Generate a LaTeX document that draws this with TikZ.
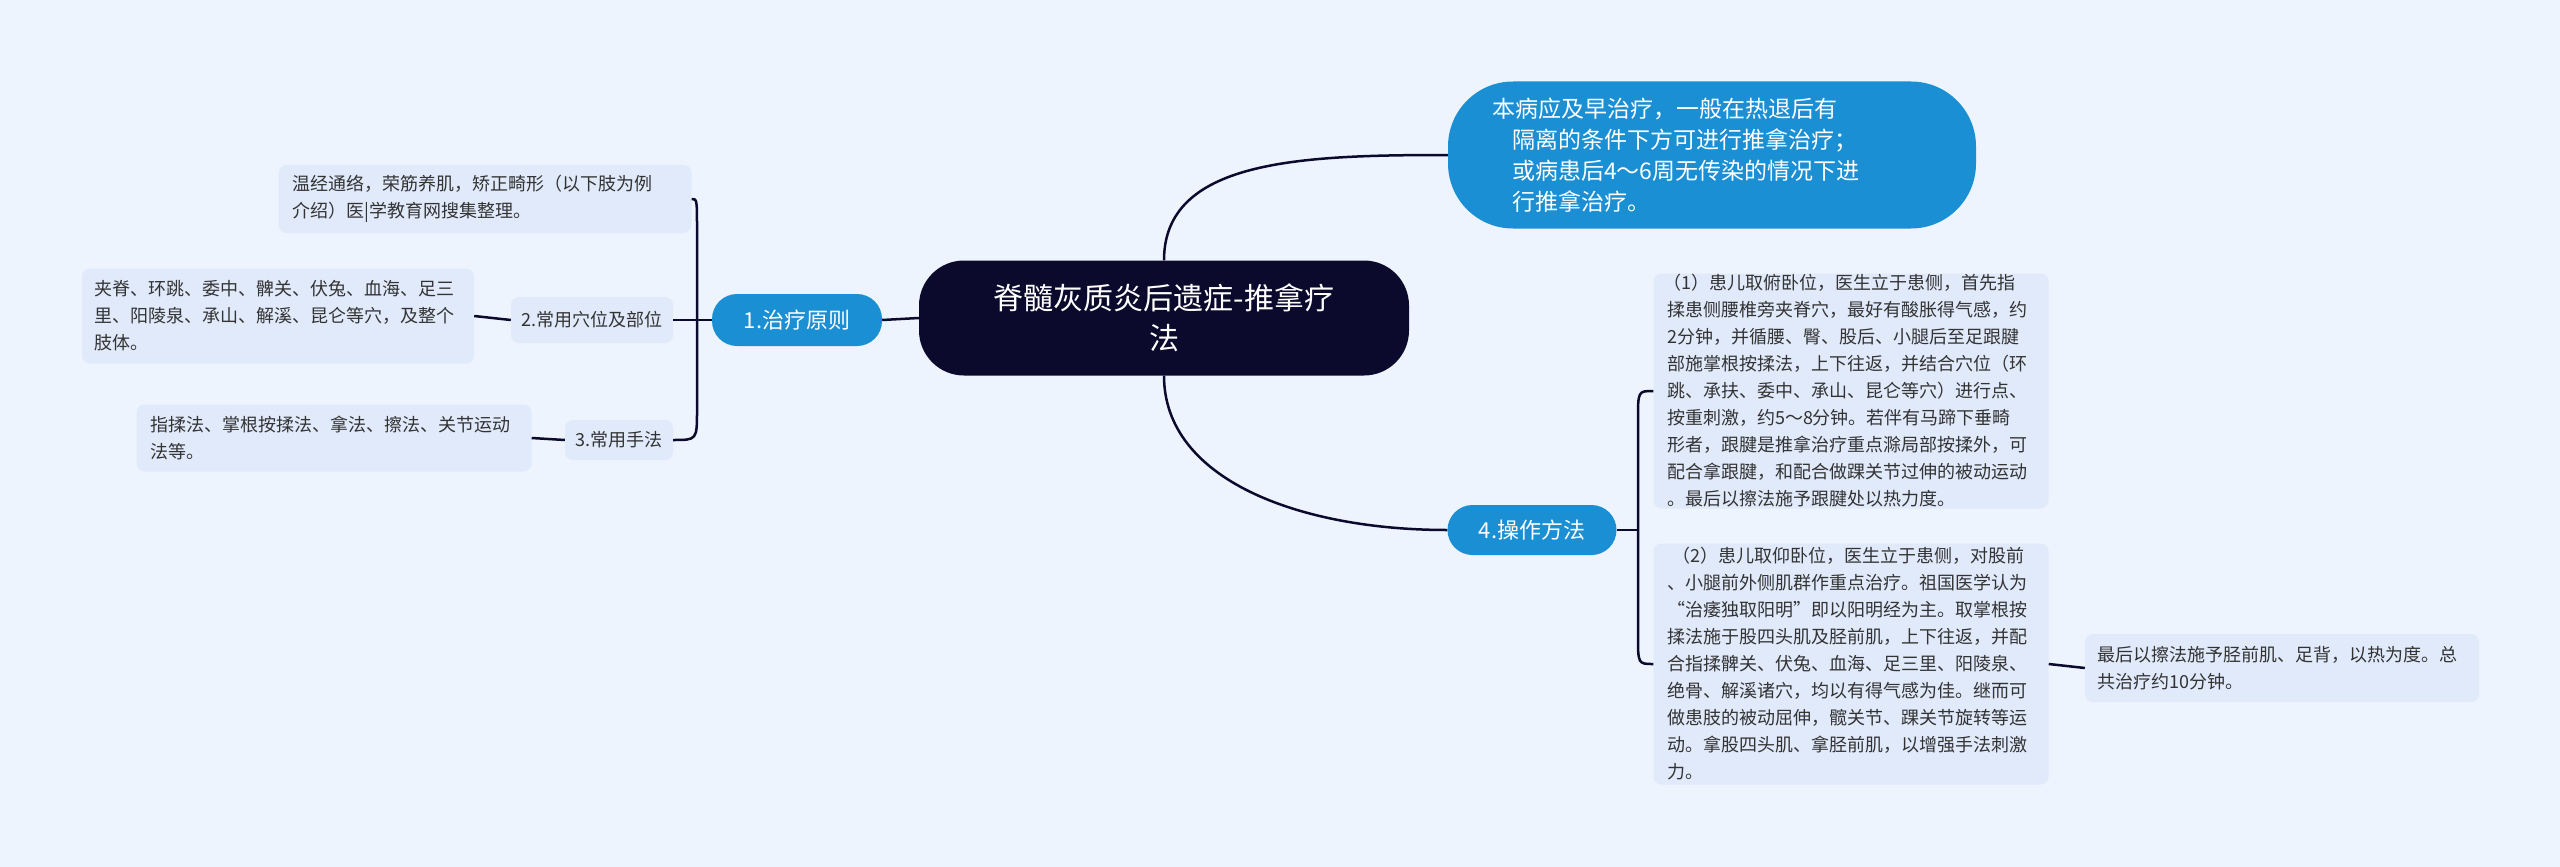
\documentclass[tikz,border=0pt]{standalone}
\usepackage{fontspec}
\setmainfont{Noto Sans CJK SC}
\definecolor{bg}{HTML}{EEF4FE}
\definecolor{leaf}{HTML}{E0EAFB}
\definecolor{blu}{HTML}{1A8FD4}
\definecolor{navy}{HTML}{0B0A2C}
\definecolor{txt}{HTML}{333333}
\begin{document}
\begin{tikzpicture}[x=1pt,y=-1pt,
  leafbox/.style={fill=leaf,rounded corners=8pt,text=txt,font=\fontsize{18}{27}\selectfont,align=left,inner sep=0pt},
  subbox/.style={fill=leaf,rounded corners=8pt,text=txt,font=\fontsize{18}{24}\selectfont,inner sep=0pt},
  bluebox/.style={fill=blu,rounded corners=25pt,text=white,font=\fontsize{22}{28}\selectfont,inner sep=0pt},
  conn/.style={line width=2.5pt,draw=navy}]
\fill[bg] (0,0) rectangle (2560,867);
\useasboundingbox (0,0) rectangle (2560,867);
\node[fill=navy,rounded corners=45pt,text=white,minimum width=490pt,minimum height=115pt,align=center,font=\fontsize{30}{40}\selectfont,inner sep=0pt] (root) at (1164,318) {脊髓灰质炎后遗症-推拿疗\\法};
\node[fill=blu,rounded corners=65pt,text=white,minimum width=528pt,minimum height=147pt,text width=400pt,align=left,font=\fontsize{23}{31}\selectfont,inner sep=0pt] (top) at (1712,155) {\hspace*{-20pt}本病应及早治疗，一般在热退后有\\隔离的条件下方可进行推拿治疗；\\或病患后4～6周无传染的情况下进\\行推拿治疗。};
\node[bluebox,minimum width=170pt,minimum height=52pt] (n1) at (797,320) {1.治疗原则};
\node[subbox,minimum width=162pt,minimum height=46pt] (n2) at (592,320) {2.常用穴位及部位};
\node[subbox,minimum width=108pt,minimum height=40pt] (n3) at (619,440) {3.常用手法};
\node[leafbox,minimum width=413pt,minimum height=68pt,text width=385pt] (L1) at (485,199) {温经通络，荣筋养肌，矫正畸形（以下肢为例\\介绍）医|学教育网搜集整理。};
\node[leafbox,minimum width=392pt,minimum height=95pt,text width=368pt] (L2) at (278,316) {夹脊、环跳、委中、髀关、伏兔、血海、足三\\里、阳陵泉、承山、解溪、昆仑等穴，及整个\\肢体。};
\node[leafbox,minimum width=395pt,minimum height=67pt,text width=368pt] (L3) at (334,438) {指揉法、掌根按揉法、拿法、擦法、关节运动\\法等。};
\node[bluebox,minimum width=169pt,minimum height=50pt] (n4) at (1532,530) {4.操作方法};
\node[leafbox,minimum width=395pt,minimum height=235pt,text width=368pt] (R1) at (1851,391) {\hspace*{-4pt}（1）患儿取俯卧位，医生立于患侧，首先指\\揉患侧腰椎旁夹脊穴，最好有酸胀得气感，约\\2分钟，并循腰、臀、股后、小腿后至足跟腱\\部施掌根按揉法，上下往返，并结合穴位（环\\跳、承扶、委中、承山、昆仑等穴）进行点、\\按重刺激，约5～8分钟。若伴有马蹄下垂畸\\形者，跟腱是推拿治疗重点滁局部按揉外，可\\配合拿跟腱，和配合做踝关节过伸的被动运动\\。最后以擦法施予跟腱处以热力度。};
\node[leafbox,minimum width=395pt,minimum height=241pt,text width=368pt] (R2) at (1851,664) {\hspace*{5pt}（2）患儿取仰卧位，医生立于患侧，对股前\\、小腿前外侧肌群作重点治疗。祖国医学认为\\“治痿独取阳明”即以阳明经为主。取掌根按\\揉法施于股四头肌及胫前肌，上下往返，并配\\合指揉髀关、伏兔、血海、足三里、阳陵泉、\\绝骨、解溪诸穴，均以有得气感为佳。继而可\\做患肢的被动屈伸，髋关节、踝关节旋转等运\\动。拿股四头肌、拿胫前肌，以增强手法刺激\\力。};
\node[leafbox,minimum width=394pt,minimum height=68pt,text width=370pt] (F) at (2282,668) {最后以擦法施予胫前肌、足背，以热为度。总\\共治疗约10分钟。};
\coordinate (bl) at (697,320);
\coordinate (br) at (1638,530);
\draw[conn] (root.west) -- (n1.east);
\draw[conn] (n1.west) -- (n2.east);
\draw[conn] (n2.west) -- (L2.east);
\draw[conn] (n3.west) -- (L3.east);
\draw[conn] (L1.east) .. controls (697,199) .. (697,230) -- (697,410) .. controls (697,440) .. (n3.east);
\draw[conn] (n4.east) -- (br);
\draw[conn] (R1.west) .. controls (1638,391) .. (1638,420) -- (1638,635) .. controls (1638,664) .. (R2.west);
\draw[conn] (R2.east) -- (F.west);
\draw[conn] (root.north) .. controls (1164,160) and (1300,155) .. (top.west);
\draw[conn] (root.south) .. controls (1164,480) and (1300,530) .. (n4.west);
\end{tikzpicture}
\end{document}
